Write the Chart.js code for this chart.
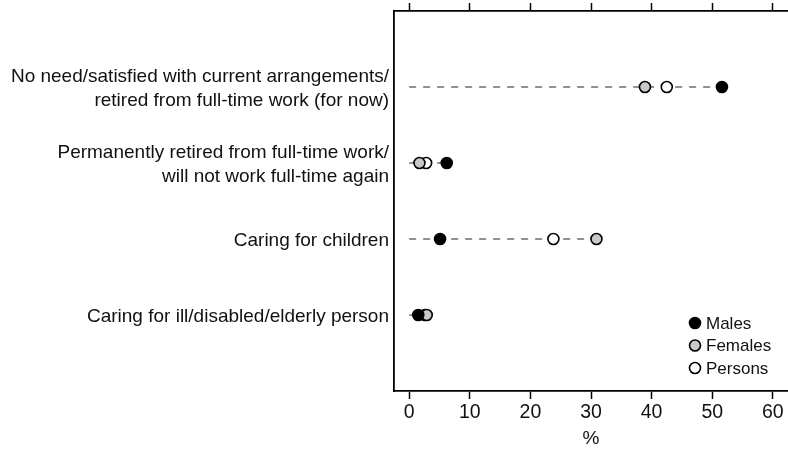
<!DOCTYPE html>
<html>
<head>
<meta charset="utf-8">
<script src="https://cdn.jsdelivr.net/npm/chart.js@4/dist/chart.umd.min.js"></script>
<style>
  html, body { margin: 0; padding: 0; background: #ffffff; }
  #wrap { width: 788px; height: 450px; }
</style>
</head>
<body>
<div id="wrap"><canvas id="chart" width="788" height="450"></canvas></div>
<script>
// Reasons for not wanting to work more hours, by sex (%)
const categories = [
  ["No need/satisfied with current arrangements/", "retired from full-time work (for now)"],
  ["Permanently retired from full-time work/", "will not work full-time again"],
  ["Caring for children"],
  ["Caring for ill/disabled/elderly person"]
];
const males   = [51.6, 6.2, 5.1, 1.5];
const females = [38.9, 1.7, 30.9, 2.9];
const persons = [42.5, 2.8, 23.8, 2.6];
const xTicks  = [0, 10, 20, 30, 40, 50, 60];
const seriesNames = ["Males", "Females", "Persons"];

const FONT = "'Liberation Sans', Arial, Helvetica, sans-serif";

const rowPos = i => i + 1;
const toPoints = vals => vals.map((v, i) => ({ x: v, y: rowPos(i) }));

// one dashed guide per category, from zero to the largest value in the row
const guides = categories.map((c, i) => ({
  type: 'line',
  data: [{ x: 0, y: rowPos(i) }, { x: Math.max(males[i], females[i], persons[i]), y: rowPos(i) }],
  borderColor: '#858585',
  borderWidth: 1.8,
  borderDash: [7, 7],
  pointRadius: 0,
  fill: false,
  order: 10
}));

const markerStyle = (fill) => ({
  type: 'scatter',
  pointRadius: 5.5,
  pointHoverRadius: 5.5,
  pointBorderWidth: 1.6,
  pointBorderColor: '#000000',
  pointBackgroundColor: fill,
  backgroundColor: fill,
  borderColor: '#000000'
});

const series = [
  Object.assign({ label: seriesNames[2], data: toPoints(persons), order: 3 }, markerStyle('#ffffff')),
  Object.assign({ label: seriesNames[1], data: toPoints(females), order: 2 }, markerStyle('#c8c8c8')),
  Object.assign({ label: seriesNames[0], data: toPoints(males), order: 1 }, markerStyle('#000000'))
];

// legend drawn inside the plot's lower right corner
const cornerLegend = {
  id: 'cornerLegend',
  afterDatasetsDraw(chart) {
    const ctx = chart.ctx;
    const area = chart.chartArea;
    const entries = [series[2], series[1], series[0]];
    const x0 = area.right - 93;
    const y0 = area.bottom - 68;
    ctx.save();
    ctx.font = "17px " + FONT;
    ctx.textBaseline = 'middle';
    ctx.textAlign = 'left';
    entries.forEach((ds, k) => {
      const y = y0 + k * 22.5;
      ctx.beginPath();
      ctx.arc(x0, y, 5.5, 0, Math.PI * 2);
      ctx.fillStyle = ds.pointBackgroundColor;
      ctx.fill();
      ctx.lineWidth = 1.6;
      ctx.strokeStyle = '#000000';
      ctx.stroke();
      ctx.fillStyle = '#111111';
      ctx.fillText(ds.label, x0 + 11, y + 1);
    });
    ctx.restore();
  }
};

const noSidePad = s => { s.paddingLeft = 0; s.paddingRight = 0; };

new Chart(document.getElementById('chart'), {
  data: { datasets: [...series, ...guides] },
  options: {
    responsive: false,
    animation: false,
    devicePixelRatio: 1,
    layout: { padding: 0, autoPadding: false },
    plugins: { legend: { display: false }, tooltip: { enabled: false } },
    scales: {
      x: {
        type: 'linear',
        position: 'bottom',
        min: -2.5,
        max: 62.5,
        afterBuildTicks: s => { s.ticks = xTicks.map(v => ({ value: v })); },
        afterFit: s => { s.height = 59; noSidePad(s); },
        border: { display: true, color: '#000000', width: 1.8 },
        grid: { drawOnChartArea: false, drawTicks: true, tickLength: 8, tickWidth: 1.5, tickColor: '#000000' },
        ticks: { color: '#111111', padding: 2, maxRotation: 0, font: { family: FONT, size: 19.5 } },
        title: { display: true, text: '%', color: '#111111', padding: { top: 0, bottom: 0 }, font: { family: FONT, size: 19 } }
      },
      xTop: {
        type: 'linear',
        position: 'top',
        min: -2.5,
        max: 62.5,
        afterBuildTicks: s => { s.ticks = xTicks.map(v => ({ value: v })); },
        afterFit: s => { s.height = 11; noSidePad(s); },
        border: { display: true, color: '#000000', width: 1.8 },
        grid: { drawOnChartArea: false, drawTicks: true, tickLength: 8, tickWidth: 1.5, tickColor: '#000000' },
        ticks: { display: false }
      },
      y: {
        type: 'linear',
        position: 'left',
        reverse: true,
        min: 0,
        max: categories.length + 1,
        afterBuildTicks: s => { s.ticks = categories.map((c, i) => ({ value: rowPos(i) })); },
        afterFit: s => { s.width = 394; s.paddingTop = 0; s.paddingBottom = 0; },
        border: { display: true, color: '#000000', width: 1.8 },
        grid: { display: false, drawTicks: false },
        ticks: {
          color: '#111111',
          padding: 5,
          labelOffset: 2,
          font: { family: FONT, size: 19, lineHeight: 1.24 },
          callback: v => categories[v - 1]
        }
      }
    }
  },
  plugins: [cornerLegend]
});
</script>
</body>
</html>
